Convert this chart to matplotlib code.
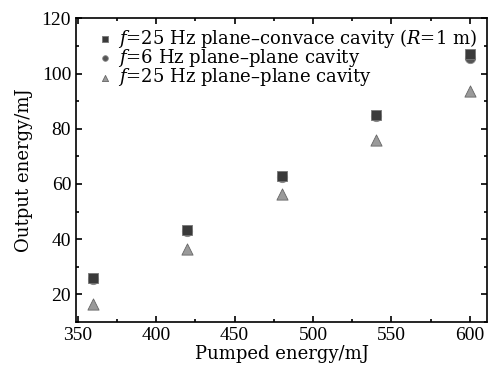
import matplotlib
matplotlib.use("Agg")
import matplotlib.pyplot as plt
from matplotlib.ticker import MultipleLocator

plt.rcParams['font.family'] = ['DejaVu Serif']
plt.rcParams['mathtext.fontset'] = 'dejavuserif'

# pumped energy (mJ) and output energy (mJ) for each cavity setup
pump = [360, 420, 480, 540, 600]
out_convex_25 = [26.0, 43.5, 63.0, 85.0, 107.0]
out_plane_6 = [25.5, 43.0, 62.5, 84.5, 105.5]
out_plane_25 = [16.5, 36.5, 56.5, 76.0, 93.5]

labels = [r"$f$=25 Hz plane–convace cavity ($R$=1 m)",
          r"$f$=6 Hz plane–plane cavity",
          r"$f$=25 Hz plane–plane cavity"]

fig = plt.figure(figsize=(4.94, 3.66), dpi=100)
ax = fig.add_axes([0.154, 0.12, 0.832, 0.83])

ax.scatter(pump, out_convex_25, marker="s", s=60, color="#3a3a3a",
           edgecolors="#777777", linewidths=0.6, label=labels[0], zorder=3)
ax.scatter(pump, out_plane_6, marker="o", s=55, color="#555555",
           edgecolors="#888888", linewidths=0.6, label=labels[1], zorder=2)
ax.scatter(pump, out_plane_25, marker="^", s=65, color="#9a9a9a",
           edgecolors="#666666", linewidths=0.6, label=labels[2], zorder=3)

ax.set_xlim(349, 611)
ax.set_ylim(10, 120)
ax.xaxis.set_major_locator(MultipleLocator(50))
ax.xaxis.set_minor_locator(MultipleLocator(25))
ax.yaxis.set_major_locator(MultipleLocator(20))
ax.yaxis.set_minor_locator(MultipleLocator(10))
ax.tick_params(which="both", direction="in", top=True, right=True,
               labelsize=14, width=1.2)
ax.tick_params(which="major", length=4)
ax.tick_params(which="minor", length=2)
for lab in ax.get_xticklabels() + ax.get_yticklabels():
    lab.set_fontfamily("Liberation Serif")
for sp in ax.spines.values():
    sp.set_linewidth(1.2)

ax.set_xlabel("Pumped energy/mJ", fontsize=13, labelpad=1)
ax.set_ylabel("Output energy/mJ", fontsize=13, labelpad=6)

ax.legend(loc="upper left", frameon=False, fontsize=13, markerscale=0.55,
          handletextpad=0.3, handlelength=0.8, labelspacing=-0.15,
          borderpad=0.0, borderaxespad=0.0, bbox_to_anchor=(0.054, 0.972))

fig.savefig("out.png", dpi=100)
